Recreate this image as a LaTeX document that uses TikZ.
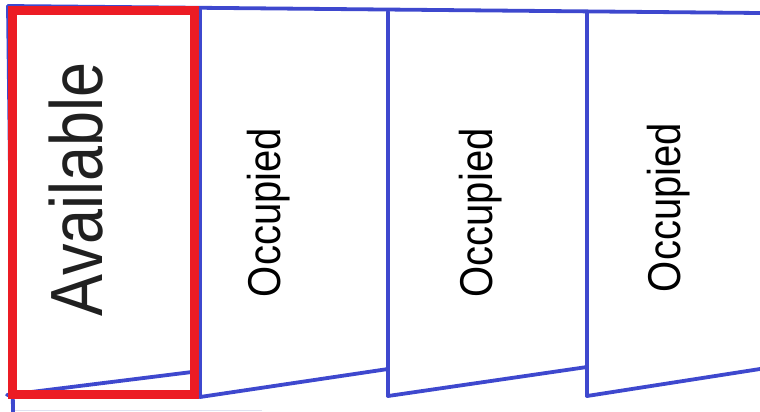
\documentclass[tikz,border=0pt]{standalone}
\usepackage{fontspec}
\setmainfont{Liberation Sans}
\definecolor{pblue}{RGB}{62,72,206}
\definecolor{pred}{RGB}{236,28,36}
\definecolor{pfaint}{RGB}{222,225,240}
\definecolor{ptext}{RGB}{32,32,32}
\begin{document}
\begin{tikzpicture}[x=1pt,y=-1pt,
  edge/.style={draw=pblue,line width=3.8pt,line cap=round},
  faint/.style={draw=pfaint,line width=1pt},
  frame/.style={draw=pred,line width=9pt},
  lbl/.style={rotate=90,inner sep=0pt,anchor=base,text=ptext}]
\useasboundingbox (0,0) rectangle (760,412);
% corner coordinates
\coordinate (t0) at (8,6);
\coordinate (t1) at (200,10);
\coordinate (t2) at (388,12);
\coordinate (t3) at (587,13);
\coordinate (t4) at (760,13);
\coordinate (b0) at (13,412);
\coordinate (l0) at (7,395);
\coordinate (r0) at (200,371);
\coordinate (d1) at (200,397);
\coordinate (r1) at (388,369);
\coordinate (d2) at (388,396);
\coordinate (r2) at (587,367);
\coordinate (d3) at (587,396);
\coordinate (r3) at (760,369);
% faint bottom line
\draw[faint] (14,410) -- (262,410);
% panels
\draw[edge] (t0) -- (t4);
\draw[edge] (t0) -- (b0);
\draw[edge] (t1) -- (d1);
\draw[edge] (t2) -- (d2);
\draw[edge] (t3) -- (d3);
\draw[edge] (l0) -- (r0);
\draw[edge] (d1) -- (r1);
\draw[edge] (d2) -- (r2);
\draw[edge] (d3) -- (r3);
% labels
\node[lbl] (avail) at (102,189.5) {\fontsize{74}{74}\selectfont\scalebox{0.85}[1]{Available}};
\node[lbl,text=black] (occ1) at (280,212.5) {\fontsize{46}{46}\selectfont\scalebox{0.87}[1]{Occupied}};
\node[lbl,text=black] (occ2) at (492,213) {\fontsize{46}{46}\selectfont\scalebox{0.87}[1]{Occupied}};
\node[lbl,text=black] (occ3) at (680,207.5) {\fontsize{46}{46}\selectfont\scalebox{0.87}[1]{Occupied}};
% red highlight
\draw[frame] (12.5,10.5) rectangle (194.5,394);
\end{tikzpicture}
\end{document}
